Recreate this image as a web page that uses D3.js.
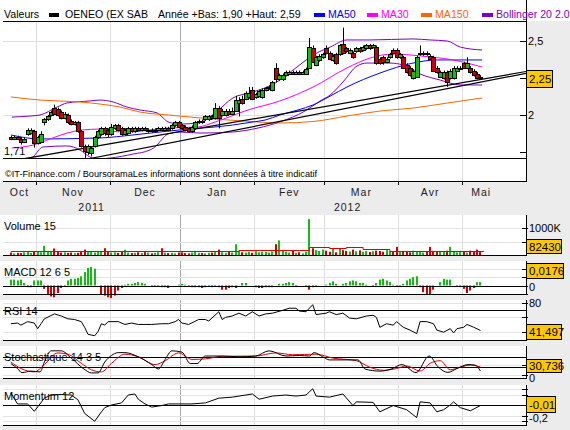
<!DOCTYPE html>
<html><head><meta charset="utf-8">
<script src="https://cdn.jsdelivr.net/npm/d3@7/dist/d3.min.js"></script>
<style>
html,body{margin:0;padding:0;background:#ececec;overflow:hidden}
svg{display:block}
text{font-family:"Liberation Sans",Arial,sans-serif;}
</style></head><body>
<svg id="chart" width="570" height="430"></svg>
<script>
// ---------------- DATA ----------------
// trading-day index: 0 = 1 Nov 2011
const firstDay = -8;
const open  = [1.85,1.84,1.85,1.84,1.82,1.87,1.88,1.89, 1.81,1.82,1.95,1.97,2.00,2.05,2.04,2.02,1.98,2.00, 1.96,1.94,1.95,1.89,1.79,1.75,1.74,1.79,1.85,1.87, 1.91,1.90,1.87,1.91,1.93,1.91,1.87,1.88,1.91,1.89, 1.91,1.90,1.91,1.89,1.90,1.89,1.90,1.91,1.90,1.91, 1.91,1.93,1.95,1.93,1.92,1.91,1.89,1.91,1.95,1.96, 1.97,1.97,1.99,1.98,2.05,2.00,2.00,2.03,2.01,2.03, 2.08,2.11,2.11,2.12,2.17,2.12,2.13,2.12,2.17,2.18, 2.17,2.32,2.24,2.24,2.27,2.28,2.29,2.28,2.29,2.28, 2.28,2.32,2.45,2.34,2.37,2.39,2.45,2.42,2.37,2.41, 2.41,2.48,2.45,2.42,2.42,2.43,2.45,2.44,2.45,2.47, 2.46,2.46,2.38,2.39,2.36,2.39,2.44,2.44,2.39,2.39, 2.34,2.32,2.25,2.26,2.41,2.41,2.42,2.40,2.39,2.32, 2.26,2.25,2.29,2.25,2.25,2.30,2.32,2.35,2.32,2.32, 2.30,2.28,2.26];
const high  = [1.86,1.86,1.86,1.85,1.85,1.91,1.91,1.90, 1.86,1.89,1.98,2.00,2.03,2.07,2.05,2.03,2.02,2.01, 1.97,1.96,1.96,1.90,1.80,1.80,1.79,1.86,1.90,1.92, 1.92,1.91,1.94,1.94,1.94,1.92,1.91,1.92,1.92,1.92, 1.92,1.92,1.92,1.91,1.91,1.91,1.92,1.92,1.92,1.92, 1.94,1.96,1.96,1.94,1.93,1.92,1.93,1.96,1.97,1.97, 2.00,2.00,2.00,2.08,2.06,2.04,2.04,2.04,2.05,2.13, 2.12,2.13,2.16,2.19,2.19,2.15,2.17,2.18,2.19,2.20, 2.23,2.35,2.28,2.28,2.30,2.30,2.30,2.30,2.30,2.30, 2.32,2.52,2.47,2.40,2.41,2.42,2.47,2.43,2.41,2.42, 2.48,2.59,2.46,2.45,2.43,2.46,2.46,2.47,2.48,2.48, 2.48,2.47,2.39,2.40,2.39,2.42,2.45,2.45,2.42,2.40, 2.35,2.33,2.31,2.40,2.47,2.43,2.43,2.41,2.40,2.33, 2.30,2.30,2.30,2.31,2.33,2.33,2.33,2.36,2.39,2.33, 2.31,2.29,2.27];
const low   = [1.83,1.83,1.83,1.80,1.81,1.86,1.87,1.78, 1.80,1.81,1.93,1.96,1.99,2.00,1.99,1.97,1.97,1.94, 1.93,1.93,1.88,1.78,1.71,1.73,1.72,1.78,1.84,1.86, 1.86,1.85,1.86,1.90,1.89,1.86,1.86,1.87,1.88,1.88, 1.89,1.89,1.89,1.88,1.88,1.88,1.89,1.89,1.89,1.89, 1.90,1.92,1.91,1.90,1.89,1.88,1.88,1.90,1.94,1.94, 1.96,1.96,1.97,1.97,1.91,1.99,1.99,2.00,2.00,2.02, 1.99,2.07,2.10,2.11,2.10,2.11,2.12,2.11,2.16,2.17, 2.16,2.22,2.23,2.23,2.26,2.27,2.27,2.27,2.27,2.27, 2.27,2.31,2.35,2.33,2.36,2.38,2.41,2.37,2.36,2.34, 2.40,2.41,2.42,2.41,2.38,2.42,2.42,2.43,2.44,2.44, 2.45,2.34,2.34,2.34,2.35,2.38,2.41,2.38,2.38,2.31, 2.28,2.26,2.24,2.25,2.40,2.40,2.40,2.37,2.29,2.28, 2.25,2.24,2.19,2.24,2.24,2.29,2.31,2.31,2.31,2.28, 2.26,2.24,2.24];
const close = [1.84,1.85,1.84,1.82,1.84,1.90,1.90,1.81, 1.85,1.87,1.97,1.99,2.02,2.01,2.00,1.98,2.01,1.95, 1.94,1.95,1.89,1.79,1.76,1.79,1.78,1.85,1.89,1.91, 1.88,1.87,1.92,1.93,1.90,1.87,1.90,1.91,1.89,1.91, 1.90,1.91,1.90,1.90,1.89,1.90,1.91,1.90,1.91,1.90, 1.93,1.95,1.92,1.91,1.90,1.89,1.92,1.95,1.96,1.95, 1.99,1.99,1.98,2.05,1.98,2.03,2.03,2.01,2.03,2.10, 2.10,2.08,2.15,2.15,2.11,2.14,2.16,2.17,2.18,2.19, 2.22,2.24,2.27,2.27,2.29,2.29,2.28,2.29,2.28,2.29, 2.31,2.46,2.36,2.39,2.40,2.41,2.42,2.38,2.40,2.35, 2.47,2.42,2.43,2.44,2.39,2.45,2.43,2.46,2.47,2.45, 2.47,2.35,2.35,2.36,2.38,2.41,2.42,2.39,2.41,2.32, 2.29,2.27,2.30,2.39,2.42,2.42,2.41,2.38,2.30,2.29, 2.29,2.29,2.22,2.30,2.32,2.32,2.32,2.32,2.35,2.29, 2.27,2.25,2.25];
const volume = [90,60,80,70,100,120,80,130, 150,100,340,150,120,240,110,90,100,80, 90,70,80,120,200,140,110,90,120,130, 250,110,90,100,80,110,200,90,70,80, 100,70,110,90,60,80,100,250,90,70, 80,60,90,100,70,60,90,110,80,70, 60,80,90,150,200,100,80,110,90,400, 150,100,90,120,80,140,100,120,110,90, 130,400,540,180,120,90,150,80,100,60, 120,1330,250,180,150,200,160,120,230,100, 240,180,150,130,200,140,170,120,150,110, 140,160,150,120,180,130,110,300,140,120, 150,100,160,130,120,90,140,300,150,110, 130,120,160,300,140,100,150,120,90,160, 110,200,140]; // thousands
const volumeMA = [[-8,135],[14,160],[20,135],[60,175],[78,200],[81,285],[87,245],[92,300],[97,220],[105,150],[133,150]];
const ma50  = [[-8,1.865],[0.7,1.838],[18.6,1.845],[28.4,1.865],[38,1.889],[42.4,1.899],[58,1.932],[64.2,1.953],[67.8,1.966],[72.2,2.0],[77.6,2.034],[82.1,2.068],[87.2,2.128],[92.2,2.189],[102.1,2.284],[111.9,2.351],[119.1,2.372],[132.5,2.372]];
const ma30  = [[-7.7,1.777],[-1.4,1.797],[3.7,1.838],[8.7,1.878],[13.5,1.899],[18.6,1.905],[23.7,1.887],[28.4,1.887],[33.5,1.899],[38.9,1.912],[47.8,1.919],[52.9,1.953],[62.7,2.034],[72.2,2.095],[82.1,2.189],[92.2,2.318],[99.1,2.385],[106,2.412],[114,2.399],[123.8,2.372],[132.5,2.324]];
const ma150 = [[-8,2.122],[0.7,2.101],[12.6,2.088],[18.6,2.074],[24.5,2.054],[30.5,2.020],[38.9,2.0],[48.4,1.980],[61.8,1.959],[72.2,1.946],[82.1,1.956],[92.2,1.993],[102.1,2.027],[111.9,2.047],[122.1,2.081],[132.5,2.115]];
const bollUp = [[-7.7,1.986],[-2.3,1.993],[0.7,2.0],[5.8,2.054],[8.7,2.081],[15.6,2.095],[18.6,2.101],[22.5,2.088],[26.6,2.054],[30.5,2.034],[35.6,2.014],[37.4,1.980],[38.9,1.953],[42.4,1.939],[47.8,1.946],[52.9,2.014],[58.2,2.115],[64.2,2.155],[70.8,2.216],[77.3,2.324],[82.1,2.405],[87.2,2.459],[92.2,2.507],[99.1,2.507],[111.9,2.514],[117,2.507],[122.1,2.5],[126,2.459],[132.5,2.439]];
const bollDn = [[-7.7,1.628],[-1.4,1.716],[1.6,1.784],[8.7,1.791],[12.6,1.764],[15.6,1.716],[17.7,1.703],[21.6,1.709],[28.4,1.736],[33.5,1.764],[35.6,1.797],[37.4,1.845],[38.9,1.872],[42.4,1.885],[48.4,1.878],[58,1.885],[65.7,1.912],[72.2,1.953],[79.7,2.027],[84.2,2.095],[87.2,2.135],[91,2.223],[95.2,2.331],[98.2,2.351],[105,2.351],[108.9,2.338],[114,2.277],[120,2.236],[126,2.203],[132.5,2.203]];
const trendA = [[-4.4,1.703],[145.6,2.294]];
const trendB = [[15.6,1.706],[145.6,2.282]];
const lowLevel = 1.71;
const macdHist = [0.007,0.007,0.006,0.007,0.003,-0.002,-0.002,0.006, 0.006,0.006,-0.004,-0.010,-0.013,-0.014,-0.009,-0.003,-0.001,0.006, 0.008,0.008,0.009,0.011,0.016,0.021,0.022,0.020,0.0,-0.011, -0.012,-0.014,-0.015,-0.012,-0.006,-0.003,0.001,0.002,0.002,0.003, 0.004,0.003,0.002,0.0,-0.001,-0.001,-0.001,-0.002,-0.002,-0.003, 0.0,0.0,0.001,0.002,0.001,-0.001,-0.002,-0.002,-0.002,-0.003, -0.002,-0.001,-0.002,-0.001,-0.002,-0.005,-0.005,-0.003,-0.002,-0.003, 0.0,0.003,0.003,0.0,0.0,-0.002,-0.003,-0.003,-0.002,-0.002, -0.002,0.0,0.002,0.002,0.003,0.004,0.003,-0.001,0.0,0.0, -0.001,-0.005,-0.002,-0.001,0.0,0.0,0.001,0.003,0.005,0.002, 0.0,0.002,0.003,0.005,0.006,0.005,0.003,0.003,0.001,0.0, -0.001,0.003,0.007,0.008,0.006,0.004,0.001,-0.001,-0.001,0.002, 0.006,0.008,0.010,0.011,-0.002,-0.008,-0.011,-0.011,-0.005,0.0, 0.004,0.008,0.007,0.007,0.0,-0.001,-0.002,-0.004,-0.009,-0.006, -0.003,0.004,0.004];
const rsi = [[-8,51],[-6,52],[-5,49],[-3,54],[-1,52],[0,44],[1,51],[2,58],[5,65],[7,62],[9,58],[11,57],[13,54],[14,46],[15,36],[17,34],[18,40],[19,51],[20,49],[21,54],[24,54],[26,50],[28,52],[30,50],[32,50],[34,50],[37,51],[39,51],[41,54],[42,57],[43,52],[45,50],[48,57],[50,57],[51,55],[54,68],[55,57],[56,60],[58,62],[60,66],[62,62],[64,68],[66,62],[68,65],[70,66],[73,70],[75,73],[77,73],[78,69],[80,68],[82,78],[83,64],[86,66],[87,68],[89,64],[91,66],[93,59],[95,58],[98,62],[100,63],[101,60],[102,46],[104,51],[106,49],[107,54],[109,46],[111,42],[113,37],[114,54],[116,54],[118,51],[119,42],[121,39],[123,44],[124,38],[125,44],[127,46],[128,50],[130,46],[132,41.5]];
const stoK = [[-8,44],[-6,25],[-4.7,9],[-2,15],[0.7,12],[2,50],[4,93],[7,93],[10,65],[13.8,23],[16,8],[18,8],[20,50],[22,75],[24,86],[26,86],[30,70],[34,40],[36,23],[38,60],[40,93],[43,88],[45.5,44],[47.5,44],[50,73],[55,73],[60,70],[65,73],[69,93],[74,73],[78,75],[81,73],[82.4,86],[85,70],[87,58],[92,58],[95.5,58],[97.6,23],[102,15],[105.4,23],[108.6,40],[112.8,9],[116.7,73],[119.4,31],[122.3,10],[125,25],[128.3,40],[130.4,38],[132,15]];
const stoD = [[-8,50],[-5,25],[-1,12],[2,40],[6,85],[9,80],[13,45],[16,20],[19,12],[22,45],[26,80],[30,70],[35,40],[38,55],[42,85],[46,60],[50,62],[55,72],[65,73],[71,85],[76,78],[83,80],[88,65],[95,55],[99,30],[103,18],[107,25],[110,35],[114,15],[117,45],[120,55],[123,20],[126,30],[129,38],[132,31]];
const momentum = [[-8,0.23],[-6,0.02],[-3,0.02],[-1,-0.12],[2,0.13],[4,0.19],[7,0.2],[10,0.19],[12,0.1],[14,-0.16],[17,-0.31],[19,-0.13],[20,-0.05],[22,0],[25,0.04],[27,0.19],[29,0.21],[30,0.11],[32,0.02],[34,-0.04],[37,-0.01],[39,0.02],[42,0.02],[46,0.02],[50,0.04],[54,0.13],[58,0.15],[64,0.21],[66,0.11],[70,0.17],[74,0.19],[77,0.17],[80,0.19],[82,0.31],[83,0.17],[87,0.15],[91,0.21],[94,-0.01],[95,0.06],[100,0.05],[102,-0.13],[106,-0.01],[110,-0.09],[113,-0.24],[114,0.06],[117,0.04],[119,-0.13],[121,-0.09],[123,0],[124,0.06],[126,-0.05],[129,-0.11],[132,-0.01]];
const months = ["Oct","Nov","Dec","Jan","Fev","Mar","Avr","Mai"];
const monthFirstDay = [0,22,43,65,86,108,127];
const years = ["2011","2012"];
const yearFirstDay = 43;
const priceTicks = [1.75,2,2.25,2.5];
const priceLabels = [2,2.5];
const lastValues = {price:"2,25", volume:"82430", macd:"0,0176", rsi:"41,497", sto:"30,736", mom:"-0,01"};
const macdLast = 0.0176;

// ---------------- DRAW ----------------
const svg = d3.select('#chart');
const W = 570, H = 430, L = 3, R = 526;
const GREEN = '#18b818', RED = '#cc0000';
const days = d3.range(firstDay, firstDay + close.length);
const x = d3.scaleLinear().domain([-0.5, 126.5]).range([36, 462]);
const fmt = v => String(v).replace('.', ',');
const px = v => Math.round(v) + 0.5;

svg.append('rect').attr('width', W).attr('height', H).attr('fill', '#ececec');
svg.append('rect').attr('x', 0).attr('y', 0).attr('width', W).attr('height', 21).attr('fill', '#fff');
svg.append('rect').attr('x', 0).attr('y', 0).attr('width', R + 1).attr('height', 182).attr('fill', '#fff');

const boundaries = monthFirstDay.map(d => d - 0.5);
function vgrid(g, top, bottom) {
  g.selectAll(null).data(boundaries).enter().append('line')
    .attr('x1', d => px(x(d))).attr('x2', d => px(x(d)))
    .attr('y1', top).attr('y2', bottom)
    .attr('stroke', d => d === yearFirstDay - 0.5 ? '#a8a8a8' : '#dedede').attr('stroke-width', 1);
}

// ---- main panel ----
const yP = d3.scaleLinear().domain([2, 2.5]).range([115, 41]);
const main = svg.append('g');
const clip = svg.append('clipPath').attr('id', 'clipMain');
clip.append('rect').attr('x', L).attr('y', 22).attr('width', R - L).attr('height', 137);
vgrid(main, 22, 181);
main.selectAll(null).data(priceLabels).enter().append('line')
  .attr('x1', L).attr('x2', R).attr('y1', d => px(yP(d))).attr('y2', d => px(yP(d)))
  .attr('stroke', '#dedede');

const plot = main.append('g').attr('clip-path', 'url(#clipMain)');
const lineP = d3.line().x(d => x(d[0])).y(d => yP(d[1])).curve(d3.curveMonotoneX);
[[bollUp, '#8000c0'], [bollDn, '#8000c0'], [ma150, '#ff6600'], [ma50, '#0000ff'], [ma30, '#ff00ff']].forEach(([d, c]) => {
  plot.append('path').attr('d', lineP(d)).attr('fill', 'none').attr('stroke', c).attr('stroke-width', 1);
});
const lineStraight = d3.line().x(d => x(d[0])).y(d => yP(d[1]));
[trendA, trendB].forEach(t => plot.append('path').attr('d', lineStraight(t)).attr('fill', 'none').attr('stroke', '#000').attr('stroke-width', 1.2));

// candles
const cg = plot.append('g');
days.forEach((d, k) => {
  const cx = Math.round(x(d));
  const up = close[k] >= open[k];
  cg.append('line').attr('x1', cx + 0.5).attr('x2', cx + 0.5)
    .attr('y1', yP(high[k])).attr('y2', yP(low[k])).attr('stroke', '#000').attr('stroke-width', 1);
  const yt = Math.round(yP(Math.max(open[k], close[k])));
  const yb = Math.round(yP(Math.min(open[k], close[k])));
  cg.append('rect').attr('x', cx - 1.5).attr('y', yt + 0.5)
    .attr('width', 4).attr('height', Math.max(1, yb - yt))
    .attr('fill', up ? GREEN : RED).attr('stroke', '#000').attr('stroke-width', 1);
});

// low line
main.append('line').attr('x1', L).attr('x2', R).attr('y1', px(yP(lowLevel))).attr('y2', px(yP(lowLevel))).attr('stroke', '#000');
main.append('text').attr('x', 4).attr('y', yP(lowLevel) - 3).attr('font-size', 11).text(fmt(lowLevel));
// axes lines
main.append('line').attr('x1', L).attr('x2', R + 1).attr('y1', 21.5).attr('y2', 21.5).attr('stroke', '#000');
main.append('line').attr('x1', L).attr('x2', R).attr('y1', 181.5).attr('y2', 181.5).attr('stroke', '#000');
main.append('line').attr('x1', R + 0.5).attr('x2', R + 0.5).attr('y1', 0).attr('y2', 182).attr('stroke', '#000');
main.append('text').attr('x', 5).attr('y', 177).attr('font-size', 9.2).text('©IT-Finance.com / BoursoramaLes informations sont données à titre indicatif');
// right ticks
main.selectAll(null).data(priceTicks).enter().append('line')
  .attr('x1', R - 6).attr('x2', R).attr('y1', d => px(yP(d))).attr('y2', d => px(yP(d))).attr('stroke', '#000');
main.selectAll(null).data(priceLabels).enter().append('text')
  .attr('x', R + 2).attr('y', d => yP(d) + 4).attr('font-size', 11).text(d => fmt(d));
// month ticks on the x axis
main.selectAll(null).data(boundaries).enter().append('line')
  .attr('x1', d => px(x(d))).attr('x2', d => px(x(d))).attr('y1', 181).attr('y2', 185).attr('stroke', '#000');
// month labels: centred in each month's span (last month: up to the last drawn day + margin)
const spanPx = [L].concat(boundaries.map(b => x(b)), [x(days[days.length - 1]) + 20]);
months.forEach((m, k) => {
  const cxm = (spanPx[k] + spanPx[k + 1]) / 2;
  svg.append('text').attr('x', cxm).attr('y', 196).attr('text-anchor', 'middle')
    .attr('font-size', 10.5).attr('letter-spacing', 1).attr('fill', '#222').text(m);
});
const yearPx = [L, x(yearFirstDay - 0.5), R - 11];
years.forEach((t, k) => {
  svg.append('text').attr('x', (yearPx[k] + yearPx[k + 1]) / 2).attr('y', 211).attr('text-anchor', 'middle')
    .attr('font-size', 10.5).attr('letter-spacing', 1).attr('fill', '#222').text(t);
});

// header legend
const hdr = svg.append('g').attr('font-size', 10.6);
hdr.append('text').attr('x', 4).attr('y', 18).text('Valeurs');
hdr.append('rect').attr('x', 49).attr('y', 13).attr('width', 10).attr('height', 4).attr('fill', '#000');
hdr.append('text').attr('x', 65).attr('y', 18).text('OENEO (EX SAB');
hdr.append('text').attr('x', 158).attr('y', 18).text('Année +Bas: 1,90 +Haut: 2,59');
[['MA50', '#0000ff', 314], ['MA30', '#ff00ff', 367], ['MA150', '#ff6600', 421], ['Bollinger 20 2.0', '#8000c0', 482]].forEach(([t, c, xx]) => {
  hdr.append('rect').attr('x', xx).attr('y', 13).attr('width', 11).attr('height', 4).attr('fill', c);
  hdr.append('text').attr('x', xx + 14).attr('y', 18).attr('fill', c).text(t);
});

// value box helper
function box(yc, txt, w, h) {
  const g = svg.append('g');
  g.append('rect').attr('x', R + 0.5).attr('y', Math.round(yc - h / 2) + 0.5).attr('width', w).attr('height', h)
    .attr('fill', '#ffc800').attr('stroke', '#000');
  g.append('text').attr('x', R + 3).attr('y', Math.round(yc - h / 2) + h / 2 + 4.5).attr('font-size', 11.5).text(txt);
}
box(yP(2.25), lastValues.price, 26, 17);

// ---- sub panels ----
function panel(top, bottom, label, scale, ticks, labels, fmtLab, labDy) {
  const g = svg.append('g');
  g.append('rect').attr('x', 0).attr('y', top).attr('width', R + 1).attr('height', bottom - top).attr('fill', '#fff');
  vgrid(g, top, bottom);
  g.selectAll(null).data(ticks).enter().append('line')
    .attr('x1', L).attr('x2', R).attr('y1', d => px(scale(d))).attr('y2', d => px(scale(d))).attr('stroke', '#e4e4e4');
  const body = g.append('g');
  g.append('line').attr('x1', L).attr('x2', R + 1).attr('y1', bottom + 0.5).attr('y2', bottom + 0.5).attr('stroke', '#000');
  g.append('line').attr('x1', R + 0.5).attr('x2', R + 0.5).attr('y1', top).attr('y2', bottom + 1).attr('stroke', '#000');
  g.selectAll(null).data(ticks).enter().append('line')
    .attr('x1', R - 4).attr('x2', R + 2).attr('y1', d => px(scale(d))).attr('y2', d => px(scale(d))).attr('stroke', '#000');
  g.selectAll(null).data(labels).enter().append('text')
    .attr('x', R + 3).attr('y', d => scale(d) + 4 + (labDy || 0)).attr('font-size', 11).text(fmtLab);
  const lab = g.append('text').attr('x', 4).attr('y', top + 15).attr('font-size', 11).text(label);
  return {g, body, lab};
}

// Volume
const yV = d3.scaleLinear().domain([0, 1000]).range([255, 228]);
const pv = panel(215, 255, 'Volume 15', yV, [500, 1000], [1000], () => '1000K');
days.forEach((d, k) => {
  const cx = Math.round(x(d));
  pv.body.append('rect').attr('x', cx - 1).attr('y', yV(volume[k])).attr('width', 2)
    .attr('height', 255 - yV(volume[k])).attr('fill', close[k] >= open[k] ? GREEN : RED);
});
pv.body.append('path').attr('d', d3.line().x(d => x(d[0])).y(d => px(yV(d[1]))).curve(d3.curveStepAfter)(volumeMA))
  .attr('fill', 'none').attr('stroke', '#dd0000').attr('stroke-width', 1);
box(246, lastValues.volume, 35, 14);

// MACD
const yM = d3.scaleLinear().domain([0, 0.01]).range([285.5, 277.1]);
const pm = panel(261, 294, 'MACD 12 6 5', yM, [-0.01, 0, 0.01, 0.02], [0], d => '0', 1);
days.forEach((d, k) => {
  const cx = Math.round(x(d)), v = macdHist[k];
  const y0 = yM(0), y1 = yM(v);
  pm.body.append('rect').attr('x', cx - 1).attr('y', Math.min(y0, y1)).attr('width', 2)
    .attr('height', Math.abs(y1 - y0)).attr('fill', v >= 0 ? GREEN : RED);
});
pm.body.append('line').attr('x1', L).attr('x2', R).attr('y1', px(yM(0))).attr('y2', px(yM(0))).attr('stroke', '#000');
box(yM(macdLast), lastValues.macd, 37, 15);

// RSI
const yR = d3.scaleLinear().domain([40, 80]).range([331.5, 303.3]);
const pr = panel(300, 340, 'RSI 14', yR, [40, 60, 80], [80], d => String(d));
pr.body.append('line').attr('x1', L).attr('x2', R).attr('y1', px(yR(70))).attr('y2', px(yR(70))).attr('stroke', '#000');
pr.body.append('path').attr('d', d3.line().x(d => x(d[0])).y(d => yR(d[1]))(rsi)).attr('fill', 'none').attr('stroke', '#000');
box(331.5, lastValues.rsi, 35, 15);

// Stochastic
const yS = d3.scaleLinear().domain([0, 100]).range([375, 349]);
const ps = panel(346, 378, 'Stochastique 14 3 5', yS, [0, 40], [0], d => '0', 2.5);
[70, 30].forEach(v => ps.body.append('line').attr('x1', L).attr('x2', R).attr('y1', px(yS(v))).attr('y2', px(yS(v))).attr('stroke', '#000'));
ps.body.append('path').attr('d', d3.line().x(d => x(d[0])).y(d => yS(d[1])).curve(d3.curveMonotoneX)(stoD)).attr('fill', 'none').attr('stroke', '#dd0000');
ps.body.append('path').attr('d', d3.line().x(d => x(d[0])).y(d => yS(d[1])).curve(d3.curveMonotoneX)(stoK)).attr('fill', 'none').attr('stroke', '#000');
box(365.5, lastValues.sto, 35, 13);

// Momentum
const yMo = d3.scaleLinear().domain([0, -0.2]).range([405, 415.5]);
const pmo = panel(385, 425, 'Momentum 12', yMo, [0.3, 0.2, -0.2, -0.3], [-0.2], d => fmt(d), 2);
pmo.body.append('line').attr('x1', L).attr('x2', R).attr('y1', px(yMo(0))).attr('y2', px(yMo(0))).attr('stroke', '#000');
pmo.body.append('path').attr('d', d3.line().x(d => x(d[0])).y(d => yMo(d[1]))(momentum)).attr('fill', 'none').attr('stroke', '#000');
box(404, lastValues.mom, 29, 16);
</script>
</body></html>
